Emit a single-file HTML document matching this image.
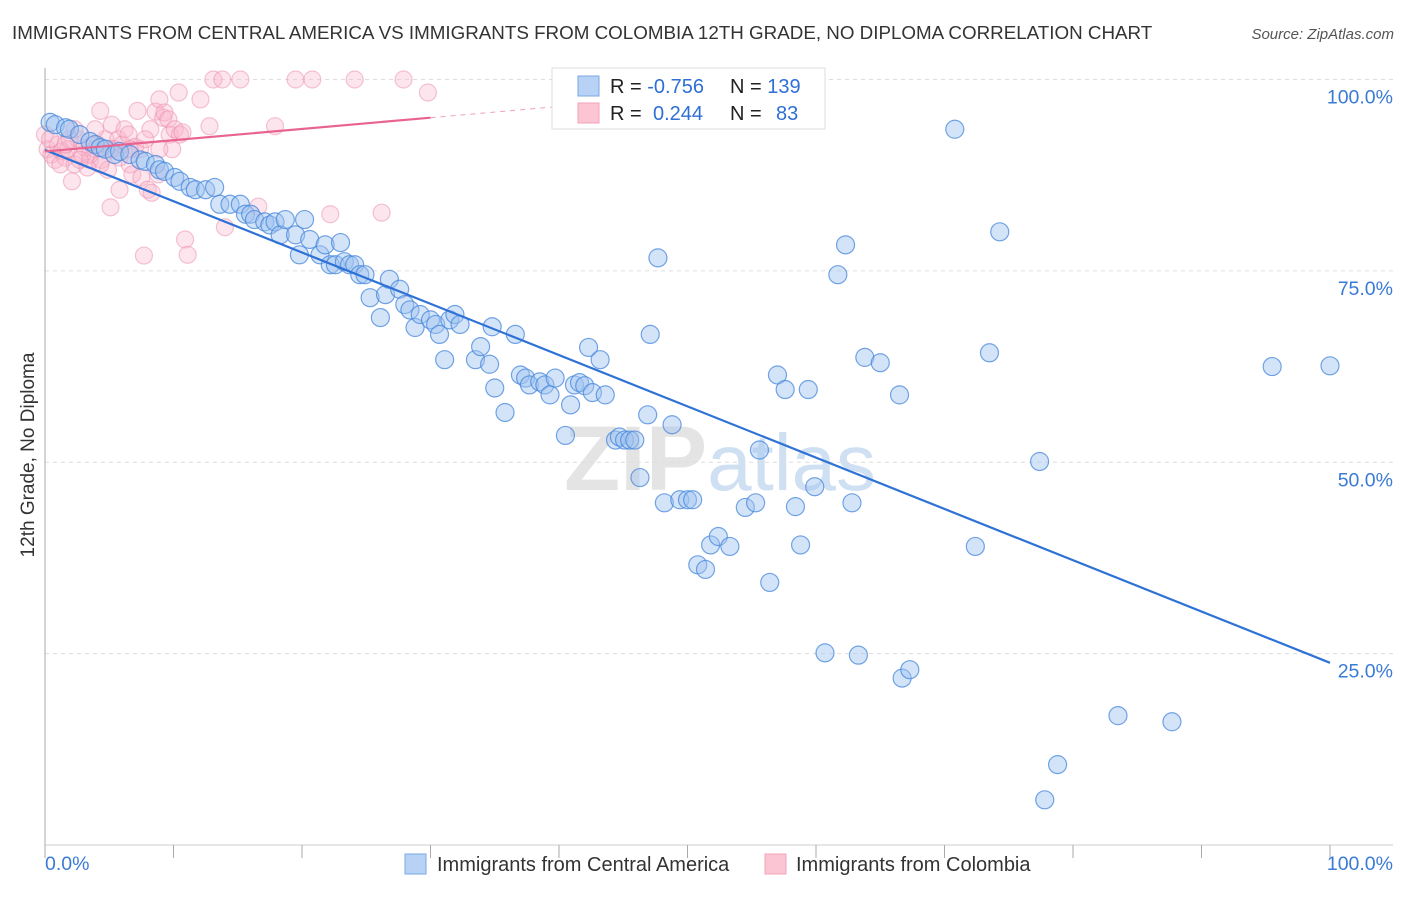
<!DOCTYPE html>
<html><head><meta charset="utf-8"><style>
body{margin:0;background:#fff;font-family:"Liberation Sans",sans-serif}
svg text{font-family:"Liberation Sans",sans-serif}
</style></head><body>
<svg id="chart" width="1406" height="892" viewBox="0 0 1406 892">
<text x="12" y="39" font-size="18.8" fill="#333">IMMIGRANTS FROM CENTRAL AMERICA VS IMMIGRANTS FROM COLOMBIA 12TH GRADE, NO DIPLOMA CORRELATION CHART</text>
<text x="1394" y="39" font-size="15" fill="#555" font-style="italic" text-anchor="end">Source: ZipAtlas.com</text>
<text x="720" y="490" font-size="92" fill="#e4e4e4" text-anchor="middle" font-weight="bold" font-family="Liberation Serif">ZIP<tspan fill="#cfe0f3" font-family="Liberation Sans" font-weight="normal" font-size="80">atlas</tspan></text>
<g id="grid"></g>
<g id="axes"></g>
<g id="pts"></g>
<g id="lines"></g>
<text x="34" y="455" font-size="19" fill="#333" text-anchor="middle" transform="rotate(-90 34 455)">12th Grade, No Diploma</text>
<g>
<rect x="552" y="68" width="273" height="61" fill="#fff" stroke="#ddd"/>
<rect x="578" y="76" width="21" height="20" fill="#b7d2f5" stroke="#7aa9e6"/>
<rect x="578" y="103" width="21" height="20" fill="#fbc5d4" stroke="#f2a3ba"/>
<text x="610" y="93" font-size="20" fill="#222">R = <tspan fill="#2f6fd6">-0.756</tspan></text>
<text x="730" y="93" font-size="20" fill="#222">N = <tspan fill="#2f6fd6">139</tspan></text>
<text x="610" y="120" font-size="20" fill="#222">R = <tspan fill="#2f6fd6" x="653">0.244</tspan></text>
<text x="730" y="120" font-size="20" fill="#222">N = <tspan fill="#2f6fd6" x="776">83</tspan></text>
</g>
<g>
<rect x="405" y="854" width="21" height="20" fill="#b7d2f5" stroke="#7aa9e6"/>
<text x="437" y="871" font-size="20" fill="#333">Immigrants from Central America</text>
<rect x="765" y="854" width="21" height="20" fill="#fbc5d4" stroke="#f2a3ba"/>
<text x="796" y="871" font-size="20" fill="#333">Immigrants from Colombia</text>
</g>
</svg>
<script>
const blueX=[0.4,0.8,1.6,1.9,2.7,3.5,3.9,4.3,4.7,5.4,5.8,6.6,7.4,7.8,8.6,8.9,9.3,10.1,10.5,11.3,11.7,12.5,13.2,13.6,14.4,15.2,15.6,16.0,16.3,17.1,17.5,17.9,18.3,18.7,19.5,19.8,20.2,20.6,21.4,21.8,22.2,22.6,23.0,23.3,23.7,24.1,24.5,24.9,25.3,26.1,26.5,26.8,27.6,28.0,28.4,28.8,29.2,30.0,30.4,30.7,31.1,31.5,31.9,32.3,33.5,33.9,34.6,34.8,35.0,35.8,36.6,37.0,37.4,37.7,38.5,38.9,39.3,39.7,40.5,40.9,41.2,41.6,42.0,42.3,42.6,43.2,43.6,44.4,44.7,45.1,45.5,45.9,46.3,46.9,47.1,47.7,48.2,48.8,49.4,50.0,50.4,50.8,51.4,51.8,52.4,53.3,54.1,54.5,54.7,55.3,55.6,56.4,57.0,57.6,58.4,58.8,59.4,59.9,60.7,61.7,62.3,62.8,63.3,63.8,65.0,66.5,66.7,67.3,70.8,72.4,73.5,74.3,77.4,77.8,78.8,83.5,87.7,95.5,100];
const blueY=[94.4,94.1,93.7,93.5,92.8,91.9,91.5,91.1,90.9,90.2,90.6,90.2,89.5,89.3,88.9,88.2,88.0,87.2,86.7,85.9,85.6,85.6,85.9,83.7,83.7,83.7,82.4,82.4,81.7,81.4,81.0,81.4,79.7,81.7,79.7,77.1,81.7,79.1,77.1,78.4,75.8,75.8,78.7,76.2,75.8,75.8,74.5,74.5,71.5,68.9,71.9,73.9,72.6,70.6,69.9,67.6,69.3,68.6,68.0,66.7,63.4,68.6,69.3,68.0,63.4,65.1,62.8,67.7,59.7,56.5,66.7,61.4,61.0,60.1,60.5,60.1,58.8,61.0,53.5,57.5,60.1,60.4,60.0,65.0,59.1,63.4,58.8,52.9,53.3,52.9,52.9,52.9,48.0,56.2,66.7,76.7,44.7,54.9,45.1,45.1,45.1,36.6,36.0,39.2,40.3,39.0,96.9,44.1,100,44.7,51.6,34.3,61.4,59.5,44.2,39.2,59.5,46.8,25.1,74.5,78.4,44.7,24.8,63.7,63.0,58.8,21.8,22.9,93.5,39.0,64.3,80.1,50.1,5.9,10.5,16.9,16.1,62.5,62.6];
const pinkX=[0.2,0.5,0.8,1.0,1.3,1.6,1.8,2.1,2.3,2.6,2.9,3.1,3.3,3.5,3.9,4.1,4.3,4.4,4.7,4.9,5.1,5.2,5.4,5.7,5.8,6.0,6.2,6.5,6.6,6.8,7.0,7.2,7.4,7.5,7.7,8.0,8.2,8.3,8.6,8.8,8.9,9.2,9.3,9.6,9.7,9.9,10.1,10.4,10.5,10.7,10.9,11.1,12.1,12.8,13.1,13.8,14.0,15.2,16.6,17.9,19.5,20.8,22.2,24.1,26.2,27.9,29.8,3.5,1.2,1.9,0,2.7,5.1,5.8,4.3,0.4,1.6,6.6,7.8,8.9,3.9,2.3];
const pinkY=[90.9,90.2,89.5,91.5,90.6,89.8,90.9,86.7,88.9,92.2,90.2,91.1,88.5,89.5,90.9,91.5,95.9,89.5,92.2,88.2,83.3,94.1,90.9,92.2,89.8,91.5,93.5,92.8,88.9,87.6,91.2,95.9,90.9,87.2,77.0,85.6,93.5,85.2,95.8,87.6,97.4,95.0,95.7,94.8,92.8,90.9,93.5,98.3,92.8,93.1,79.1,77.1,97.4,93.9,100,100,80.7,100,83.4,93.9,100,100,82.4,100,82.6,100,98.3,90.2,88.9,92.2,92.8,89.5,90.9,85.6,88.9,92.2,91.5,90.9,92.2,90.9,93.5,93.5];
const blueFit=[90.8,-0.67];
const pinkFit=[90.6,0.147];
const yTicks=[100,75,50,25];
const yTickLabels=["100.0%","75.0%","50.0%","25.0%"];
const xTicks=[0,10,20,30,40,50,60,70,80,90,100];
const NS="http://www.w3.org/2000/svg";
const X=v=>45+v*12.85, Y=v=>79.5+(100-v)*7.655;
function mk(t,a,p){const e=document.createElementNS(NS,t);for(const k in a)e.setAttribute(k,a[k]);p.appendChild(e);return e;}
const grid=document.getElementById('grid'),axes=document.getElementById('axes');
yTicks.forEach((t,i)=>{
 const l=mk('line',{x1:45,x2:1393,y1:Y(t),y2:Y(t),stroke:'#ddd','stroke-dasharray':'4,4'},grid);
 
 
 const tx=mk('text',{x:1393,y:Y(t)+24,'font-size':19.5,fill:'#3a7bd5','text-anchor':'end'},axes);
 tx.textContent=yTickLabels[i];
 
 
});
mk('line',{x1:45,x2:45,y1:68,y2:845,stroke:'#aaa'},axes);
mk('line',{x1:45,x2:1393,y1:845,y2:845,stroke:'#ccc'},axes);
xTicks.forEach(t=>{const l=mk('line',{x1:X(t),x2:X(t),y1:845,y2:858,stroke:'#aaa'},axes);
 
 });
const x0=mk('text',{x:45,y:870,'font-size':19.5,fill:'#3a7bd5'},axes);x0.textContent='0.0%';


const x1=mk('text',{x:1393,y:870,'font-size':19.5,fill:'#3a7bd5','text-anchor':'end'},axes);x1.textContent='100.0%';


const pts=document.getElementById('pts');
pinkX.forEach((x,i)=>{const c=mk('circle',{cx:X(x),cy:Y(pinkY[i]),r:8.5,fill:'rgba(248,180,202,0.35)',stroke:'rgba(236,140,172,0.5)','stroke-width':1.2},pts);
 
 });
blueX.forEach((x,i)=>{const c=mk('circle',{cx:X(x),cy:Y(blueY[i]),r:9,fill:'rgba(160,196,240,0.45)',stroke:'rgba(70,135,220,0.75)','stroke-width':1.2},pts);
 
 });
const lines=document.getElementById('lines');
const bl=mk('line',{x1:X(0),y1:Y(blueFit[0]),x2:X(100),y2:Y(blueFit[0]+blueFit[1]*100),stroke:'#2f72d6','stroke-width':2.2},lines);


const pl=mk('line',{x1:X(0),y1:Y(pinkFit[0]),x2:X(30),y2:Y(pinkFit[0]+pinkFit[1]*30),stroke:'#e8648f','stroke-width':2.2},lines);


const pd=mk('line',{x1:X(30),y1:Y(pinkFit[0]+pinkFit[1]*30),x2:X(60),y2:Y(pinkFit[0]+pinkFit[1]*60),stroke:'#f0a0b8','stroke-width':1,'stroke-dasharray':'5,5'},lines);


</script>
</body></html>
